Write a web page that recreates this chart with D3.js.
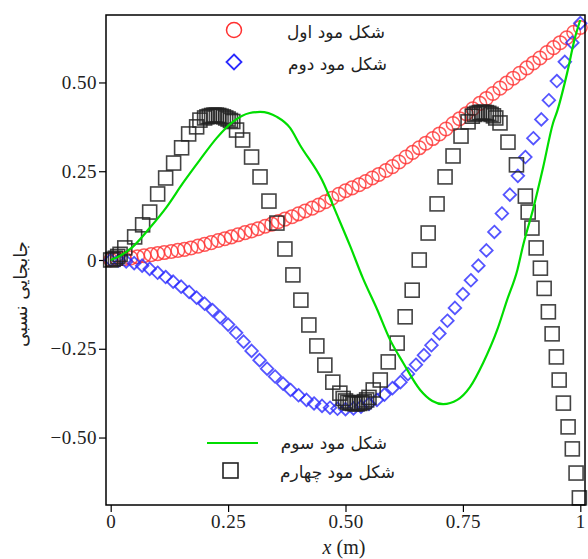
<!DOCTYPE html>
<html><head><meta charset="utf-8">
<script src="https://cdn.jsdelivr.net/npm/d3@7"></script>
<style>body{margin:0;background:#fff} svg{display:block}</style>
</head><body>
<svg id="c" width="588" height="559"></svg>
<script>
const xTicks=[0,0.25,0.5,0.75,1];
const xTickLabels=["0","0.25","0.50","0.75","1"];
const yTicks=[-0.5,-0.25,0,0.25,0.5];
const yTickLabels=["−0.50","−0.25","0","0.25","0.50"];
const legendLabels=["شکل مود اول","شکل مود دوم","شکل مود سوم","شکل مود چهارم"];
const yTitle="جابجایی نسبی";

// mode 1 (red circles)
const mode1X=[0,.014,.029,.043,.057,.071,.086,.1,.114,.129,.143,.157,.171,.186,.2,.214,.229,.243,.257,.271,.286,.3,.314,.329,.343,.357,.371,.386,.4,.414,.429,.443,.457,.471,.486,.5,.514,.529,.543,.557,.571,.586,.6,.614,.629,.643,.657,.671,.686,.7,.714,.729,.743,.757,.771,.786,.8,.814,.829,.843,.857,.871,.886,.9,.914,.929,.943,.957,.971,.986,1];
const mode1Y=[0,.002,.004,.006,.009,.012,.015,.018,.021,.024,.027,.030,.034,.039,.044,.049,.055,.060,.065,.071,.077,.082,.088,.095,.101,.108,.115,.122,.130,.138,.146,.155,.164,.174,.185,.195,.203,.212,.221,.231,.241,.252,.263,.276,.290,.303,.316,.329,.342,.355,.369,.384,.398,.412,.426,.441,.455,.469,.484,.498,.512,.526,.541,.555,.569,.584,.598,.612,.626,.641,.655];

// mode 2 (blue diamonds)
const mode2X=[0,.017,.033,.05,.067,.083,.1,.117,.133,.15,.167,.183,.2,.217,.233,.25,.267,.283,.3,.317,.333,.35,.367,.383,.4,.417,.433,.45,.467,.483,.5,.517,.533,.55,.567,.583,.6,.617,.633,.65,.667,.683,.7,.717,.733,.75,.767,.783,.8,.817,.833,.85,.867,.883,.9,.917,.933,.95,.967,.983,1];
const mode2Y=[0,-.001,-.004,-.009,-.016,-.025,-.036,-.048,-.061,-.075,-.09,-.106,-.123,-.141,-.161,-.182,-.205,-.23,-.256,-.282,-.306,-.328,-.348,-.366,-.381,-.394,-.404,-.411,-.416,-.419,-.42,-.418,-.413,-.405,-.394,-.379,-.361,-.344,-.321,-.295,-.268,-.24,-.207,-.171,-.135,-.096,-.057,-.016,.027,.079,.131,.184,.237,.29,.343,.396,.45,.504,.558,.612,.667];

// mode 3 (green line)
const mode3X=[0,.02,.047,.083,.119,.154,.19,.226,.26,.296,.318,.354,.382,.403,.45,.482,.51,.537,.567,.595,.623,.659,.685,.708,.738,.765,.793,.823,.844,.866,.878,.9,.921,.942,.951,.972,.989,1];
const mode3Y=[0,.012,.037,.09,.149,.217,.282,.344,.389,.414,.417,.403,.372,.324,.225,.127,.039,-.051,-.138,-.225,-.29,-.366,-.397,-.406,-.394,-.358,-.29,-.197,-.113,-.028,.04,.146,.262,.386,.42,.527,.628,.676];

// mode 4 (black squares)
const mode4X=[0,.005,.01,.015,.02,.03,.051,.068,.083,.1,.117,.134,.151,.166,.183,.19,.2,.205,.21,.215,.22,.225,.23,.235,.24,.245,.25,.255,.26,.268,.281,.3,.318,.337,.354,.371,.388,.405,.422,.439,.456,.473,.488,.495,.5,.505,.51,.515,.52,.525,.53,.535,.54,.545,.55,.559,.574,.591,.61,.627,.642,.657,.676,.695,.712,.729,.746,.761,.77,.775,.78,.785,.79,.795,.8,.805,.81,.815,.82,.829,.846,.864,.883,.889,.897,.906,.915,.923,.932,.94,.949,.955,.964,.974,.983,.991,.998];
const mode4Y=[0,.002,.005,.01,.016,.034,.065,.099,.135,.186,.231,.273,.316,.355,.375,.394,.4,.403,.405,.407,.408,.408,.407,.405,.403,.4,.397,.393,.39,.366,.338,.29,.234,.166,.104,.031,-.042,-.113,-.183,-.242,-.296,-.344,-.375,-.39,-.397,-.401,-.403,-.404,-.405,-.405,-.404,-.402,-.399,-.394,-.387,-.366,-.338,-.287,-.234,-.16,-.085,0,.076,.158,.234,.293,.349,.389,.405,.41,.413,.415,.416,.416,.415,.413,.41,.406,.4,.386,.332,.268,.18,.135,.09,.034,-.023,-.08,-.146,-.208,-.273,-.338,-.403,-.47,-.532,-.6,-.67];

const svg=d3.select("#c");
const x=d3.scaleLinear().domain([-0.01,1.01]).range([106,585]);
const y=d3.scaleLinear().domain([-0.69,0.69]).range([505,15]);

const tickFont="'Liberation Serif','Times New Roman',serif";
const gx=svg.append("g").attr("transform","translate(0,505)")
  .call(d3.axisBottom(x).tickValues(xTicks).tickFormat((d,i)=>xTickLabels[i]).tickSize(7).tickPadding(3));
const gy=svg.append("g").attr("transform","translate(106,0)")
  .call(d3.axisLeft(y).tickValues(yTicks).tickFormat((d,i)=>yTickLabels[i]).tickSize(7).tickPadding(2));
[gx,gy].forEach(g=>{
  g.attr("font-family",tickFont);
  g.select(".domain").remove();
  g.selectAll("line").attr("stroke","#000").attr("stroke-width",1.2);
  g.selectAll("text").attr("font-family",tickFont).attr("font-size",19).attr("fill","#222").attr("letter-spacing","0.5px");
});

const m1=mode1X.map((v,i)=>[v,mode1Y[i]]);
const m2=mode2X.map((v,i)=>[v,mode2Y[i]]);
const m3=mode3X.map((v,i)=>[v,mode3Y[i]]);
const m4=mode4X.map((v,i)=>[v,mode4Y[i]]);

const diamond=s=>`M0,${-s}L${s},0L0,${s}L${-s},0Z`;

svg.append("g").selectAll("circle").data(m1).join("circle")
  .attr("cx",d=>x(d[0])).attr("cy",d=>y(d[1])).attr("r",6.8)
  .attr("fill","none").attr("stroke","#ff3030").attr("stroke-width",1.5).attr("stroke-opacity",0.8);

svg.append("g").selectAll("path").data(m2).join("path")
  .attr("transform",d=>`translate(${x(d[0])},${y(d[1])})`).attr("d",diamond(6.3))
  .attr("fill","none").attr("stroke","#2a2aff").attr("stroke-width",1.8).attr("stroke-opacity",0.8);

svg.append("g").selectAll("rect").data(m4).join("rect")
  .attr("x",d=>x(d[0])-7).attr("y",d=>y(d[1])-7).attr("width",14).attr("height",14)
  .attr("fill","none").attr("stroke","#222").attr("stroke-width",1.6).attr("stroke-opacity",0.85);

svg.append("path").datum(m3)
  .attr("d",d3.line().x(d=>x(d[0])).y(d=>y(d[1])).curve(d3.curveMonotoneX))
  .attr("fill","none").attr("stroke","#00dd00").attr("stroke-width",2.2);

svg.append("rect").attr("x",106).attr("y",15).attr("width",479).attr("height",490)
  .attr("fill","none").attr("stroke","#000").attr("stroke-width",1.5);

// legends
const lf="'DejaVu Sans',sans-serif";
svg.append("circle").attr("cx",234).attr("cy",30).attr("r",7.5)
  .attr("fill","none").attr("stroke","#ff3030").attr("stroke-width",1.5);
svg.append("path").attr("transform","translate(234,62)").attr("d",diamond(7.5))
  .attr("fill","none").attr("stroke","#2a2aff").attr("stroke-width",1.8);
svg.append("line").attr("x1",207).attr("x2",258).attr("y1",443).attr("y2",443)
  .attr("stroke","#00dd00").attr("stroke-width",2.2);
svg.append("rect").attr("x",223).attr("y",463).attr("width",15).attr("height",15)
  .attr("fill","none").attr("stroke","#222").attr("stroke-width",1.6);
const legPos=[[385,38],[387,70],[387,449],[395,478]];
legendLabels.forEach((t,i)=>{
  svg.append("text").attr("x",legPos[i][0]).attr("y",legPos[i][1]).attr("text-anchor","end")
    .attr("font-family",lf).attr("font-size",17).attr("fill","#222").text(t);
});

svg.append("text").attr("transform","translate(27,294) rotate(-90)").attr("text-anchor","middle")
  .attr("font-family",lf).attr("font-size",18).attr("fill","#222").text(yTitle);

const xt=svg.append("text").attr("x",344).attr("y",554).attr("text-anchor","middle")
  .attr("font-family",tickFont).attr("font-size",20).attr("fill","#222");
xt.append("tspan").attr("font-style","italic").text("x");
xt.append("tspan").text(" (m)");
</script>
</body></html>
